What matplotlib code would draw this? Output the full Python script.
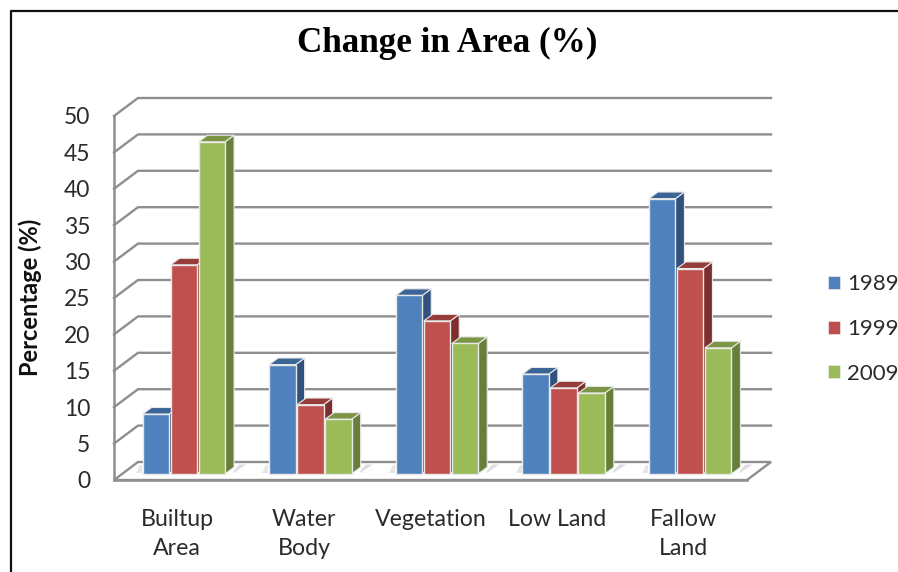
import matplotlib
matplotlib.use("Agg")
import matplotlib.pyplot as plt
from matplotlib.lines import Line2D
from matplotlib.patches import Patch, Polygon

categories = ["Builtup\nArea", "Water\nBody", "Vegetation", "Low Land", "Fallow\nLand"]
years = ["1989", "1999", "2009"]
values_1989 = [8.2, 15.0, 24.5, 13.7, 37.8]
values_1999 = [28.7, 9.5, 21.0, 11.8, 28.2]
values_2009 = [45.6, 7.5, 17.9, 11.1, 17.3]
y_ticks = list(range(0, 51, 5))

front_colors = ["#4F81BD", "#C0504D", "#9BBB59"]
top_colors = ["#3B6596", "#963C3A", "#7B9545"]
side_colors = ["#31527D", "#7D2F2D", "#677F3B"]
GRID = "#8E8E8E"
TEXT = "#2B2B2B"
UI_FONT = ["Lato", "Open Sans", "DejaVu Sans"]

W, H = 898, 572
fig = plt.figure(figsize=(W / 100, H / 100), dpi=100, facecolor="white")

# Front plane of the box: 633 px wide, 364 px tall for 0..50
ax = fig.add_axes([114 / W, (H - 480) / H, 633 / W, 364 / H])
ax.set_xlim(-0.5, 4.5)
ax.set_ylim(0, 50)
ax.patch.set_alpha(0)

px_x = 5 / 633   # category units per pixel
px_y = 50 / 364  # percentage units per pixel

# Full floor depth, and where the bars sit within it
depth_x, depth_y = 24 * px_x, 18 * px_y
bar_near_x, bar_near_y = 6.5 * px_x, 6.2 * px_y
bar_dx, bar_dy = 9 * px_x, 6.6 * px_y
bar_w = 26.5 * px_x
bar_step = 28 * px_x

# Floor outline and back wall gridlines
ax.add_patch(Polygon([(-0.5, 0), (-0.5 + depth_x, depth_y), (4.5 + depth_x, depth_y), (4.5, 0)],
                     closed=True, facecolor="white", edgecolor=GRID, lw=1.7,
                     clip_on=False, zorder=1))
for v in y_ticks[1:]:
    ax.plot([-0.5, -0.5 + depth_x, 4.5 + depth_x], [v, v + depth_y, v + depth_y],
            color=GRID, lw=1.7, clip_on=False, zorder=1, solid_joinstyle="miter")

# Soft floor shadow to the right of each bar group
for i in range(len(categories)):
    x_start = i + bar_near_x + 1.5 * bar_step + bar_dx - 1.5 * px_x
    ax.add_patch(Polygon([(x_start, bar_near_y + 0.1), (x_start + 13 * px_x, depth_y - 2.5 * px_y),
                          (x_start + 6 * px_x, depth_y - 2.5 * px_y), (x_start, bar_near_y + 2.5 * px_y)],
                         closed=True, facecolor="#DDDDDD", edgecolor="none", clip_on=False, zorder=1.5))
    x_left = i + bar_near_x - 1.5 * bar_step - 6 * px_x
    ax.add_patch(Polygon([(x_left, bar_near_y + 0.1), (x_left + 6 * px_x, bar_near_y + 0.1),
                          (x_left + 6 * px_x, depth_y - 2.5 * px_y), (x_left + 4 * px_x, depth_y - 2.5 * px_y)],
                         closed=True, facecolor="#E6E6E6", edgecolor="none", clip_on=False, zorder=1.5))

# Bars drawn left to right so nearer faces overlap correctly
series = [values_1989, values_1999, values_2009]
order = 2.0
for i in range(len(categories)):
    for s, vals in enumerate(series):
        cx = i + bar_near_x + (s - 1) * bar_step
        v = vals[i]
        x0, x1 = cx - bar_w / 2, cx + bar_w / 2
        top = bar_near_y + v
        ax.add_patch(Polygon([(x1, bar_near_y), (x1 + bar_dx, bar_near_y + bar_dy),
                              (x1 + bar_dx, top + bar_dy), (x1, top)],
                             closed=True, facecolor=side_colors[s], edgecolor="#E9E9E9",
                             lw=0.8, clip_on=False, zorder=order))
        ax.add_patch(Polygon([(x0, top), (x0 + bar_dx, top + bar_dy),
                              (x1 + bar_dx, top + bar_dy), (x1, top)],
                             closed=True, facecolor=top_colors[s], edgecolor="#E9E9E9",
                             lw=0.8, clip_on=False, zorder=order))
        ax.bar(cx, v, width=bar_w, bottom=bar_near_y, color=front_colors[s],
               edgecolor="#E9E9E9", linewidth=1.0, clip_on=False, zorder=order + 0.1)
        order += 0.2

ax.set_xticks(range(len(categories)))
ax.set_xticklabels(categories, family=UI_FONT, fontsize=16.7, color=TEXT, linespacing=1.46)
ax.set_yticks(y_ticks)
ax.set_yticklabels([str(t) for t in y_ticks], family=UI_FONT, fontsize=16.5, color=TEXT)
ax.tick_params(axis="x", length=0, pad=21)
ax.tick_params(axis="y", length=0, pad=17)
for name in ("top", "right"):
    ax.spines[name].set_visible(False)
for name in ("left", "bottom"):
    ax.spines[name].set_color(GRID)
    ax.spines[name].set_linewidth(1.8)

handles = [Patch(facecolor=c, edgecolor="#E9E9E9", linewidth=0.5) for c in front_colors]
fig.legend(handles, years, loc="center left", bbox_to_anchor=(828 / W, (H - 329) / H),
           frameon=False, prop={"family": UI_FONT, "size": 16}, labelcolor=TEXT,
           handlelength=0.54, handleheight=0.54, handletextpad=0.32,
           labelspacing=1.11, borderpad=0, borderaxespad=0)

fig.text(447 / W, (H - 43) / H, "Change in Area (%)", ha="center", va="center",
         family="Liberation Serif", fontweight="bold", fontsize=25.3, color="black")
fig.text(30 / W, (H - 297) / H, "Percentage (%)", ha="center", va="center", rotation=90,
         family=UI_FONT, fontweight="bold", fontsize=17, color="#111111")

# Outer frame: left and top edges only
fig.add_artist(Line2D([10.5 / W, 10.5 / W, 1], [0, (H - 10.5) / H, (H - 10.5) / H],
                      color="#111111", lw=1.6, transform=fig.transFigure))

fig.savefig("out.png", dpi=100)
